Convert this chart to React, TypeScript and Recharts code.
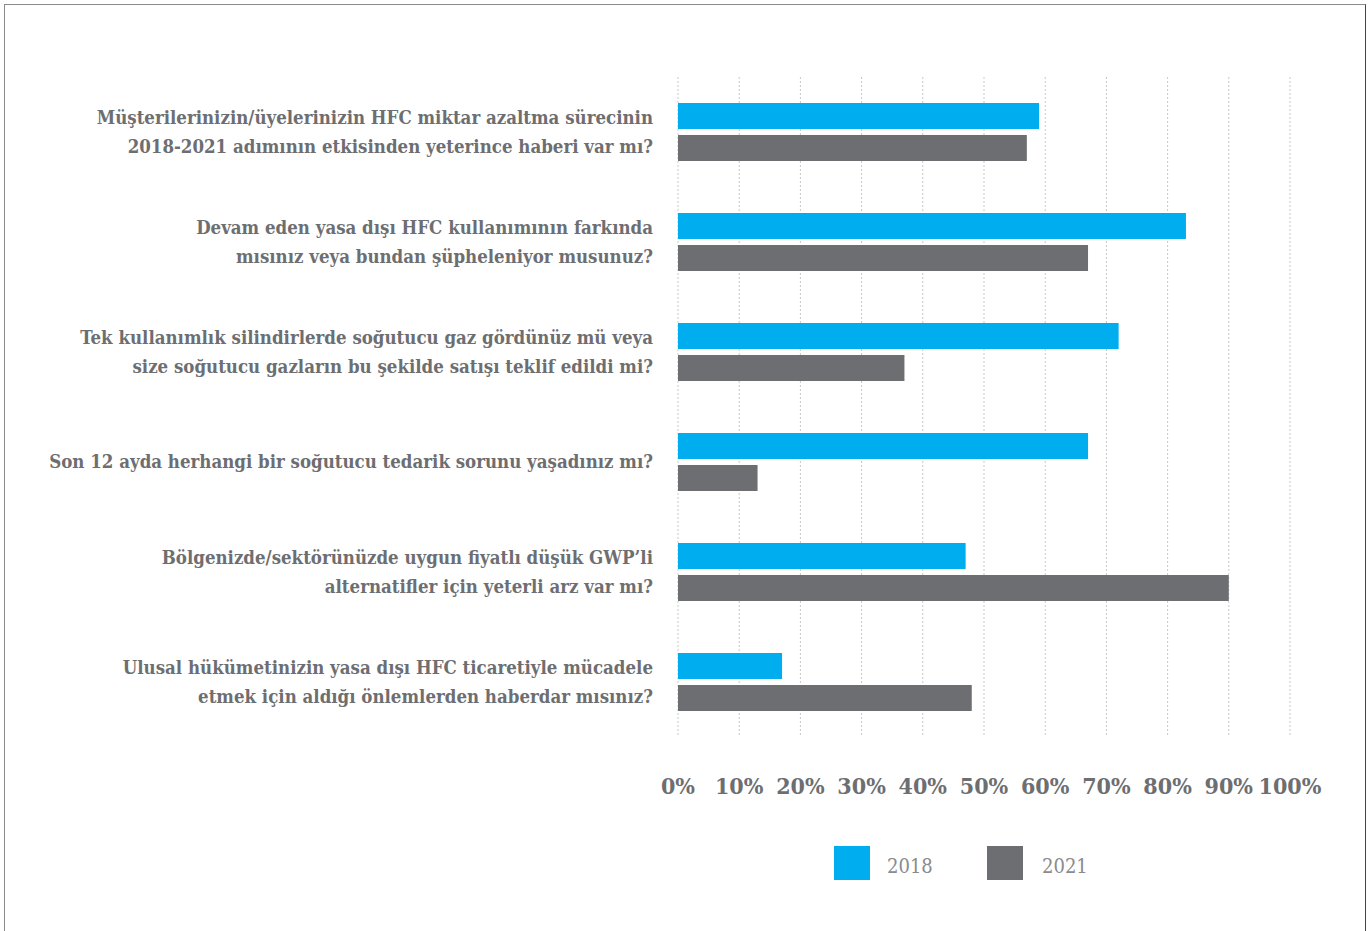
import React from 'react';
import { BarChart, Bar, XAxis, YAxis, CartesianGrid } from 'recharts';

const categories: string[][] = [
  ['Müşterilerinizin/üyelerinizin HFC miktar azaltma sürecinin', '2018-2021 adımının etkisinden yeterince haberi var mı?'],
  ['Devam eden yasa dışı HFC kullanımının farkında', 'mısınız veya bundan şüpheleniyor musunuz?'],
  ['Tek kullanımlık silindirlerde soğutucu gaz gördünüz mü veya', 'size soğutucu gazların bu şekilde satışı teklif edildi mi?'],
  ['Son 12 ayda herhangi bir soğutucu tedarik sorunu yaşadınız mı?'],
  ['Bölgenizde/sektörünüzde uygun fiyatlı düşük GWP’li', 'alternatifler için yeterli arz var mı?'],
  ['Ulusal hükümetinizin yasa dışı HFC ticaretiyle mücadele', 'etmek için aldığı önlemlerden haberdar mısınız?'],
];
const values2018 = [59, 83, 72, 67, 47, 17];
const values2021 = [57, 67, 37, 13, 90, 48];
const xTicks = [0, 10, 20, 30, 40, 50, 60, 70, 80, 90, 100];
const seriesNames = ['2018', '2021'];

const BLUE = '#00aeef';
const GRAY = '#6d6e71';
const TEXT = '#6d6e71';
const FONT = "'DejaVu Serif Condensed', 'DejaVu Serif', serif";

const data = categories.map((c, i) => ({
  key: String(i),
  v2018: values2018[i],
  v2021: values2021[i],
}));

const YTick = (props: any) => {
  const { x, y, payload } = props;
  const lines = categories[Number(payload.value)];
  const lh = 29;
  const start = -((lines.length - 1) * lh) / 2;
  return (
    <text x={x - 17} y={y} textAnchor="end" fill={TEXT} fontFamily={FONT} fontSize={18.5} fontWeight={600}>
      {lines.map((l, i) => (
        <tspan key={i} x={x - 17} y={y + start + i * lh} dy="0.35em">{l}</tspan>
      ))}
    </text>
  );
};

const XTick = (props: any) => {
  const { x, y, payload } = props;
  return (
    <text x={x} y={y + 49} textAnchor="middle" fill={TEXT} fontFamily={FONT} fontSize={23} fontWeight={700}>
      {payload.value}%
    </text>
  );
};

export default function App() {
  return (
    <div style={{ position: 'absolute', left: 0, top: 0, width: 1370, height: 931, background: '#fff', overflow: 'hidden' }}>
      <div style={{ position: 'absolute', left: 4, top: 4, width: 1360, height: 960, borderTop: '1px solid #8a8a8a', borderLeft: '1px solid #8a8a8a', borderRight: '1px solid #444' }} />
      <div style={{ position: 'absolute', left: 0, top: 0 }}>
        <BarChart
          width={1370}
          height={931}
          data={data}
          layout="vertical"
          margin={{ top: 77, right: 80, left: 0, bottom: 134 }}
          barSize={26}
          barGap={6}
        >
          <CartesianGrid horizontal={false} vertical={true} stroke="#c8c8c8" strokeDasharray="2 2" />
          <XAxis
            type="number"
            domain={[0, 100]}
            ticks={xTicks}
            tickLine={false}
            axisLine={false}
            tick={<XTick />}
            height={60}
            interval={0}
          />
          <YAxis
            type="category"
            dataKey="key"
            width={678}
            tickLine={false}
            axisLine={false}
            tick={<YTick />}
            interval={0}
          />
          <Bar dataKey="v2018" name={seriesNames[0]} fill={BLUE} isAnimationActive={false} />
          <Bar dataKey="v2021" name={seriesNames[1]} fill={GRAY} isAnimationActive={false} />
        </BarChart>
      </div>
      <div style={{ position: 'absolute', left: 834, top: 846, display: 'flex', alignItems: 'center', fontFamily: FONT, fontSize: 20, color: '#8a8b8e', fontWeight: 300 }}>
        <div style={{ width: 36, height: 34, background: BLUE }} />
        <span style={{ marginLeft: 17, width: 100, paddingTop: 6 }}>{seriesNames[0]}</span>
        <div style={{ width: 36, height: 34, background: GRAY }} />
        <span style={{ marginLeft: 19, paddingTop: 6 }}>{seriesNames[1]}</span>
      </div>
    </div>
  );
}
